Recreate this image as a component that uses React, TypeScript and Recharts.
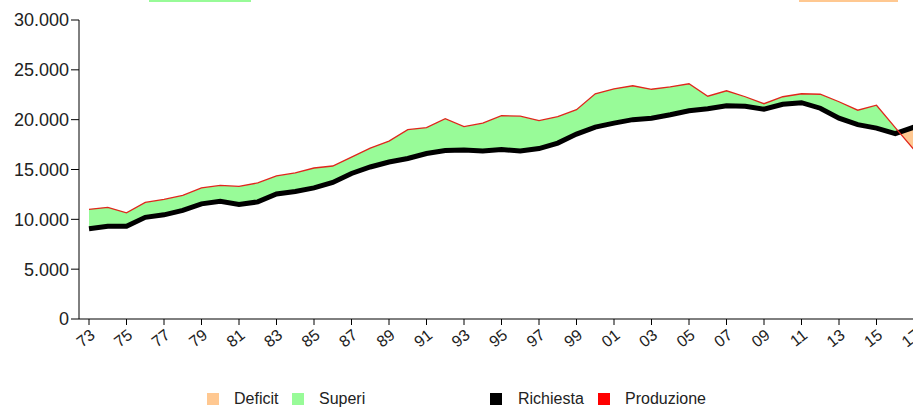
import React from "react"
import { Area, ComposedChart, Line, XAxis, YAxis } from "recharts"

const years = [
  1973, 1974, 1975, 1976, 1977, 1978, 1979, 1980, 1981, 1982, 1983, 1984, 1985, 1986, 1987,
  1988, 1989, 1990, 1991, 1992, 1993, 1994, 1995, 1996, 1997, 1998, 1999, 2000, 2001, 2002,
  2003, 2004, 2005, 2006, 2007, 2008, 2009, 2010, 2011, 2012, 2013, 2014, 2015, 2016, 2017,
]

// richiesta (black) and produzione (red)
const richiesta = [
  9050, 9300, 9300, 10200, 10450, 10900, 11550, 11800, 11500, 11750, 12550, 12800, 13150, 13700, 14600,
  15250, 15750, 16100, 16600, 16900, 16950, 16850, 17000, 16850, 17100, 17650, 18550, 19250, 19650, 20000,
  20150, 20500, 20900, 21100, 21400, 21350, 21050, 21550, 21700, 21150, 20150, 19500, 19150, 18600, 19250,
]

const produzione = [
  11000, 11200, 10650, 11700, 12000, 12400, 13150, 13400, 13300, 13650, 14350, 14650, 15150, 15350, 16250,
  17150, 17850, 19000, 19200, 20100, 19300, 19650, 20400, 20350, 19900, 20300, 21000, 22600, 23100, 23400,
  23050, 23300, 23600, 22350, 22900, 22300, 21600, 22300, 22600, 22550, 21800, 20950, 21450, 19200, 17000,
]

const yTicks = [0, 5000, 10000, 15000, 20000, 25000, 30000]
const xTicks = years.filter((y) => (y - 1973) % 2 === 0)

const data = years.map((year, i) => ({
  year,
  richiesta: richiesta[i],
  produzione: produzione[i],
  band: [richiesta[i], produzione[i]],
}))

// where produzione drops below richiesta -> switch the fill from green to orange
function splitOffset() {
  for (let i = 0; i < years.length - 1; i++) {
    const d0 = produzione[i] - richiesta[i]
    const d1 = produzione[i + 1] - richiesta[i + 1]
    if (d0 >= 0 && d1 < 0) {
      const t = d0 / (d0 - d1)
      const yr = years[i] + t * (years[i + 1] - years[i])
      return (yr - years[0]) / (years[years.length - 1] - years[0])
    }
  }
  return 1
}

const GREEN = "#98fb98"
const ORANGE = "#ffc891"

const fmt = (v: number) => String(v).replace(/\B(?=(\d{3})+(?!\d))/g, ".")

function YearTick(props: any) {
  const { x, y, payload } = props
  const lx = x + 7
  const ly = y + 10
  const label = String(payload.value % 100).padStart(2, "0")
  return (
    <text x={lx} y={ly} transform={`rotate(-38 ${lx} ${ly})`} textAnchor="end" fontSize={16} fill="#222">
      {label}
    </text>
  )
}

function LegendItem({ color, label, left, textLeft }: any) {
  return (
    <>
      <div style={{ position: "absolute", left, top: 393, width: 12, height: 12, background: color }} />
      <div style={{ position: "absolute", left: textLeft, top: 390, fontSize: 16, lineHeight: "18px", color: "#222" }}>
        {label}
      </div>
    </>
  )
}

export default function App() {
  const off = splitOffset()
  return (
    <div
      style={{
        position: "absolute",
        left: 0,
        top: 0,
        width: 913,
        height: 407,
        overflow: "hidden",
        background: "#fff",
        fontFamily: "'Liberation Sans', Arial, sans-serif",
      }}
    >
      <div style={{ position: "absolute", left: 149, top: 0, width: 102, height: 2, background: GREEN }} />
      <div style={{ position: "absolute", left: 799, top: 0, width: 99, height: 2, background: ORANGE }} />

      <ComposedChart width={924} height={407} data={data} margin={{ top: 20, right: 0, bottom: 0, left: 0 }}>
        <defs>
          <linearGradient id="split" x1="0" y1="0" x2="1" y2="0">
            <stop offset={off} stopColor={GREEN} />
            <stop offset={off} stopColor={ORANGE} />
          </linearGradient>
        </defs>
        <XAxis
          dataKey="year"
          type="number"
          domain={[1973, 2017]}
          ticks={xTicks}
          interval={0}
          padding={{ left: 10, right: 10 }}
          height={88}
          tickSize={6}
          stroke="#000"
          tick={<YearTick />}
        />
        <YAxis
          domain={[0, 30000]}
          ticks={yTicks}
          width={79}
          tickSize={8}
          stroke="#000"
          tickFormatter={fmt}
          tick={{ fontSize: 18, fill: "#222" }}
        />
        <Area
          dataKey="band"
          type="linear"
          stroke="none"
          fill="url(#split)"
          fillOpacity={1}
          dot={false}
          activeDot={false}
          isAnimationActive={false}
        />
        <Line
          dataKey="richiesta"
          type="linear"
          stroke="#000"
          strokeWidth={5}
          dot={false}
          activeDot={false}
          isAnimationActive={false}
        />
        <Line
          dataKey="produzione"
          type="linear"
          stroke="#e0261c"
          strokeWidth={1.3}
          dot={false}
          activeDot={false}
          isAnimationActive={false}
        />
      </ComposedChart>

      <LegendItem color={ORANGE} label="Deficit" left={207} textLeft={234} />
      <LegendItem color={GREEN} label="Superi" left={292} textLeft={319} />
      <LegendItem color="#000" label="Richiesta" left={490} textLeft={518} />
      <LegendItem color="#ff0000" label="Produzione" left={598} textLeft={625} />
    </div>
  )
}
